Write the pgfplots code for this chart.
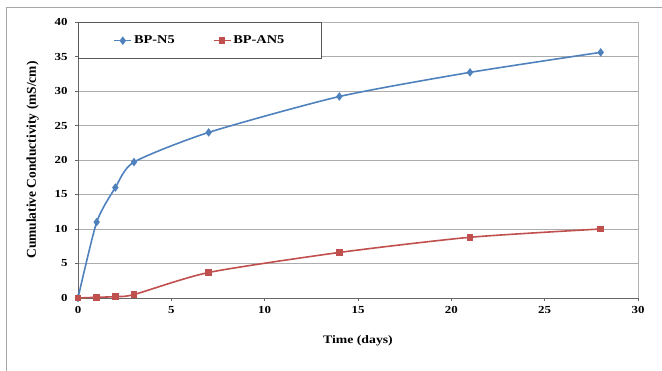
\documentclass[border=0pt]{standalone}
\usepackage{fontspec}
\setmainfont{Liberation Serif}
\newfontfamily\widefont[FakeStretch=1.2]{Liberation Serif}
\usepackage{pgfplots}
\pgfplotsset{compat=1.18}
\definecolor{xlblue}{HTML}{4F81BD}
\definecolor{xlred}{HTML}{C0504D}
\begin{document}
\begin{tikzpicture}
\path[use as bounding box] (0,0) rectangle (662bp,371bp);
\draw[gray!70, line width=0.8bp] (6bp,0) -- (6bp,364bp) -- (662bp,364bp);
\begin{axis}[
  at={(78bp,73bp)}, anchor=south west,
  scale only axis, width=560bp, height=276bp,
  xmin=0, xmax=30, ymin=0, ymax=40,
  xtick={0,5,...,30}, ytick={0,5,...,40},
  axis line style={draw=none},
  ymajorgrids, grid style={gray!65, line width=0.8bp},
  tick style={gray!80!black, line width=0.6bp},
  tick align=outside, major tick length=3bp,
  xtick pos=bottom, ytick pos=left,
  tick label style={font=\widefont\fontsize{10.8}{12}\selectfont\bfseries},
  yticklabel style={xshift=-4bp},
  xticklabel style={yshift=-2bp},
  /pgf/number format/assume math mode=true,
  xlabel={Time (days)}, ylabel={Cumulative Conductivity (mS/cm)},
  xlabel style={font=\widefont\fontsize{11.5}{13}\selectfont\bfseries, yshift=-15bp},
  ylabel style={font=\fontsize{13.5}{15}\selectfont\bfseries, yshift=9bp},
  legend columns=2,
  legend style={at={(0,1)}, anchor=north west, draw=black!65, line width=1bp,
    inner xsep=35bp, inner ysep=11.5bp,
    font=\widefont\fontsize{12}{13}\selectfont\bfseries,
    /tikz/every even column/.append style={column sep=36bp}},
  legend cell align=left,
  clip=false,
]
\draw[gray!60, line width=0.8bp] (axis cs:0,40) -- (axis cs:30,40) -- (axis cs:30,0);
\draw[gray!80!black, line width=0.8bp] (axis cs:0,40) -- (axis cs:0,0) -- (axis cs:30,0);
\addplot[color=xlblue, line width=1.6bp, smooth, tension=0.4, mark=diamond*, mark size=3bp, mark options={solid, fill=xlblue}]
coordinates {(0,0) (1,11) (2,16) (3,19.7) (7,24) (14,29.2) (21,32.7) (28,35.6)};
\addlegendentry{BP-N5}
\addplot[color=xlred, line width=1.6bp, smooth, tension=0.4, mark=square*, mark size=2.6bp, mark options={solid, fill=xlred}]
coordinates {(0,0) (1,0.1) (2,0.2) (3,0.5) (7,3.7) (14,6.6) (21,8.8) (28,10)};
\addlegendentry{BP-AN5}
\end{axis}
\end{tikzpicture}
\end{document}
